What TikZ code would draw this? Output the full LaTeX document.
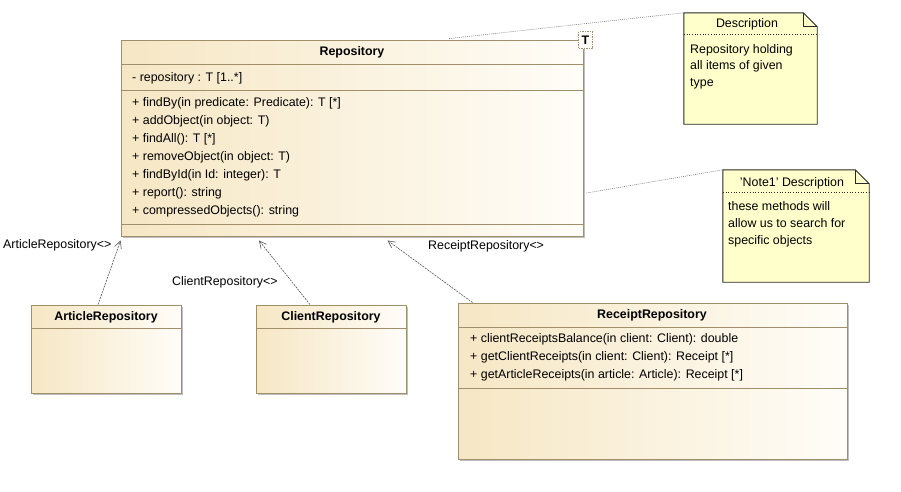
\documentclass[tikz,border=0pt]{standalone}
\usepackage{fontspec}
\setmainfont{Liberation Sans}
\usetikzlibrary{arrows.meta,calc,shadows}
\definecolor{clsborder}{RGB}{160,143,106}
\definecolor{clsleft}{RGB}{246,231,196}
\definecolor{clsright}{RGB}{255,253,248}
\definecolor{notefill}{RGB}{255,255,204}
\definecolor{noteborder}{RGB}{40,40,40}
\definecolor{linkgrey}{RGB}{85,85,85}
\begin{document}
\begin{tikzpicture}[x=1pt,y=-1pt,
  every node/.style={font=\fontsize{12.4}{14}\selectfont, inner sep=0pt},
  clsbox/.style n args={2}{draw=clsborder, line width=0.9pt, left color=clsleft, right color=clsright,
     minimum width=#1, minimum height=#2,
     drop shadow={shadow xshift=1.5pt, shadow yshift=-1.5pt, fill=black, opacity=0.25}},
  notebox/.style n args={2}{minimum width=#1, minimum height=#2},
  noteshape/.style={draw=noteborder, fill=notefill, line width=0.9pt},
  sep/.style={draw=clsborder, line width=0.8pt},
  notesep/.style={draw=noteborder, line width=0.7pt, dotted},
  tshift/.style={yshift=-1.5pt},
  txt/.style={anchor=mid west, tshift},
  boldfont/.style={font=\fontsize{12.4}{14}\selectfont\bfseries},
  ttl/.style={boldfont, tshift},
  hdr/.style={tshift},
  bind/.style={draw=linkgrey, line width=0.6pt, dash pattern=on 2pt off 1pt, -{Straight Barb[length=7pt,width=7pt]}},
  noteline/.style={draw=gray, line width=0.6pt, dash pattern=on 1pt off 1pt},
  lbl/.style={anchor=mid west, tshift}]
\useasboundingbox (0,0) rectangle (901,491);

% ---------- Repository ----------
\node[clsbox={462pt}{196pt}] (repo) at (352,138) {};
\draw[sep] (repo.west |- 0,64) -- (repo.east |- 0,64);
\draw[sep] (repo.west |- 0,90.5) -- (repo.east |- 0,90.5);
\draw[sep] (repo.west |- 0,224) -- (repo.east |- 0,224);
\node[ttl] (repotitle) at (352,51) {Repository};
\node[txt] (repoattr) at (132,77) {- repository : T [1..*]};
\node[txt] (op1) at (132,102.5) {+ findBy(in predicate: Predicate): T [*]};
\node[txt] (op2) at (132,120.4) {+ addObject(in object: T)};
\node[txt] (op3) at (132,138.3) {+ findAll(): T [*]};
\node[txt] (op4) at (132,156.2) {+ removeObject(in object: T)};
\node[txt] (op5) at (132,174.1) {+ findById(in Id: integer): T};
\node[txt] (op6) at (132,192) {+ report(): string};
\node[txt] (op7) at (132,209.9) {+ compressedObjects(): string};
\node[draw=clsborder, dash pattern=on 1.5pt off 1pt, fill=clsright, line width=0.8pt,
      minimum width=14pt, minimum height=17pt, boldfont] (tparam) at (585.5,40) {T};

% ---------- ArticleRepository ----------
\node[clsbox={150pt}{88pt}] (art) at (106,349) {};
\draw[sep] (art.west |- 0,328) -- (art.east |- 0,328);
\node[ttl] (arttitle) at (106,316) {ArticleRepository};

% ---------- ClientRepository ----------
\node[clsbox={150pt}{88pt}] (cli) at (331,349) {};
\draw[sep] (cli.west |- 0,328) -- (cli.east |- 0,328);
\node[ttl] (clititle) at (331,316) {ClientRepository};

% ---------- ReceiptRepository ----------
\node[clsbox={389pt}{156pt}] (rec) at (652.5,381) {};
\draw[sep] (rec.west |- 0,327) -- (rec.east |- 0,327);
\node[ttl] (rectitle) at (652,313.5) {ReceiptRepository};
\draw[sep] (rec.west |- 0,388) -- (rec.east |- 0,388);
\node[txt] (rop1) at (470,338.5) {+ clientReceiptsBalance(in client: Client): double};
\node[txt] (rop2) at (470,356.5) {+ getClientReceipts(in client: Client): Receipt [*]};
\node[txt] (rop3) at (470,374.5) {+ getArticleReceipts(in article: Article): Receipt [*]};

% ---------- Notes ----------
\node[notebox={133pt}{111pt}] (desc) at (750.5,68.5) {};
\draw[noteshape] (desc.north west) -- ([xshift=-14pt]desc.north east) -- ([yshift=-14pt]desc.north east)
   -- (desc.south east) -- (desc.south west) -- cycle;
\draw[noteborder, line width=0.9pt] ([xshift=-14pt]desc.north east) |- ([yshift=-14pt]desc.north east);
\draw[notesep] (desc.west |- 0,34) -- (desc.east |- 0,34);
\node[hdr] (desctitle) at (747,23) {Description};
\node[txt] (desc1) at (690,49) {Repository holding};
\node[txt] (desc2) at (690,65.5) {all items of given};
\node[txt] (desc3) at (690,82) {type};

\node[notebox={146pt}{112pt}] (note) at (796,226) {};
\draw[noteshape] (note.north west) -- ([xshift=-14pt]note.north east) -- ([yshift=-14pt]note.north east)
   -- (note.south east) -- (note.south west) -- cycle;
\draw[noteborder, line width=0.9pt] ([xshift=-14pt]note.north east) |- ([yshift=-14pt]note.north east);
\draw[notesep] (note.west |- 0,192) -- (note.east |- 0,192);
\node[hdr] (notetitle) at (792,181.5) {'Note1' Description};
\node[txt] (note1) at (728,206.5) {these methods will};
\node[txt] (note2) at (728,223.5) {allow us to search for};
\node[txt] (note3) at (728,240.5) {specific objects};

% ---------- note links ----------
\draw[noteline] ([xshift=97pt,yshift=1pt]repo.north) -- (desc.north west);
\draw[noteline] ([xshift=3pt,yshift=-55pt]repo.east) -- (note.north west);

% ---------- bindings ----------
\draw[bind] ([xshift=-8pt]art.north) -- ([yshift=-4pt]repo.south west);
\draw[bind] ([xshift=-21pt]cli.north) -- ([xshift=-93pt,yshift=-4pt]repo.south);
\draw[bind] ([xshift=15pt]rec.north west) -- ([xshift=35.5pt,yshift=-4pt]repo.south);

\node[lbl] (lart) at (3,244) {ArticleRepository<>};
\node[lbl] (lcli) at (172,281) {ClientRepository<>};
\node[lbl] (lrec) at (428,245) {ReceiptRepository<>};
\end{tikzpicture}
\end{document}
